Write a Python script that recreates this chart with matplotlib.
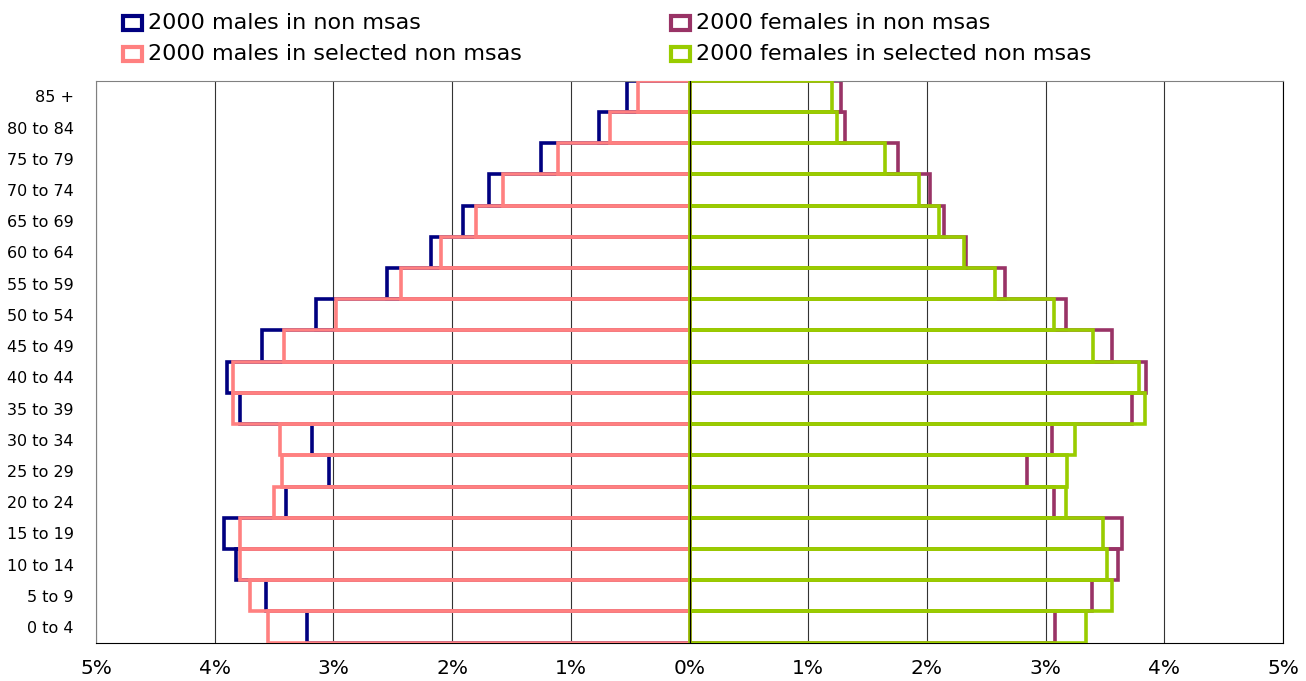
import numpy as np
import matplotlib.pyplot as plt
from matplotlib.patches import Rectangle
from matplotlib.ticker import FixedLocator, FuncFormatter

plt.rcParams['font.family'] = ['DejaVu Sans']

# age groups, bottom to top
ages = ['0 to 4', '5 to 9', '10 to 14', '15 to 19', '20 to 24', '25 to 29',
        '30 to 34', '35 to 39', '40 to 44', '45 to 49', '50 to 54', '55 to 59',
        '60 to 64', '65 to 69', '70 to 74', '75 to 79', '80 to 84', '85 +']

# share of total population, percent
males_non = [3.22, 3.57, 3.82, 3.92, 3.40, 3.04, 3.18, 3.79, 3.90, 3.60,
             3.15, 2.55, 2.18, 1.91, 1.69, 1.25, 0.76, 0.53]
males_sel = [3.55, 3.70, 3.79, 3.79, 3.50, 3.43, 3.45, 3.85, 3.85, 3.42,
             2.98, 2.43, 2.09, 1.80, 1.57, 1.11, 0.67, 0.43]
females_non = [3.08, 3.39, 3.61, 3.64, 3.07, 2.84, 3.05, 3.73, 3.85, 3.56,
               3.17, 2.66, 2.33, 2.14, 2.03, 1.76, 1.31, 1.28]
females_sel = [3.34, 3.56, 3.52, 3.48, 3.17, 3.18, 3.25, 3.84, 3.79, 3.40,
               3.07, 2.57, 2.31, 2.10, 1.93, 1.65, 1.24, 1.20]

labels = ['2000 males in non msas', '2000 males in selected non msas',
          '2000 females in non msas', '2000 females in selected non msas']
colors = ['#000080', '#FF8080', '#993366', '#99CC00']

W, H = 1306, 681
fig = plt.figure(figsize=(W/100, H/100), dpi=100)
ax = fig.add_axes([96/W, 1-642.7/H, (1283-96)/W, (642.7-80.7)/H])

y = np.arange(len(ages))
lw = 2.6

# outlined bars, males to the left as negative values
ax.barh(y, -np.array(males_non), height=1.0, facecolor='none',
        edgecolor=colors[0], linewidth=lw, zorder=2)
ax.barh(y, females_non, height=1.0, facecolor='none',
        edgecolor=colors[2], linewidth=lw, zorder=2)
ax.barh(y, -np.array(males_sel), height=1.0, facecolor='none',
        edgecolor=colors[1], linewidth=lw, zorder=3)
ax.barh(y, females_sel, height=1.0, facecolor='none',
        edgecolor=colors[3], linewidth=lw, zorder=4)

ax.axvline(0, color='black', lw=0.9, zorder=5)

ax.set_xlim(-5, 5)
ax.set_ylim(-0.5, len(ages) - 0.5)
ax.xaxis.set_major_locator(FixedLocator(np.arange(-5, 6)))
ax.xaxis.set_major_formatter(FuncFormatter(lambda v, p: '%d%%' % abs(round(v))))
ax.set_yticks(y)
ax.set_yticklabels(ages)
ax.tick_params(axis='y', length=0, pad=16, labelsize=11.5)
ax.tick_params(axis='x', length=0, pad=12, labelsize=14.5)

ax.grid(axis='x', color='#333333', lw=0.8, zorder=1)
ax.set_axisbelow(True)
for s in ['top', 'left']:
    ax.spines[s].set_color('#808080')
for s in ['right', 'bottom']:
    ax.spines[s].set_color('black')

# legend: two columns of outlined keys
key_x = [123, 671]
key_y = [23, 54]
for i, (lab, c) in enumerate(zip(labels, colors)):
    kx = key_x[i // 2]
    ky = key_y[i % 2]
    fig.patches.append(Rectangle((kx/W, 1-(ky+7)/H), 19/W, 14/H,
                                 transform=fig.transFigure, facecolor='white',
                                 edgecolor=c, linewidth=3))
    fig.text((kx+25)/W, 1-ky/H, lab, fontsize=16, va='center', ha='left')

plt.savefig('out.png', dpi=100)
